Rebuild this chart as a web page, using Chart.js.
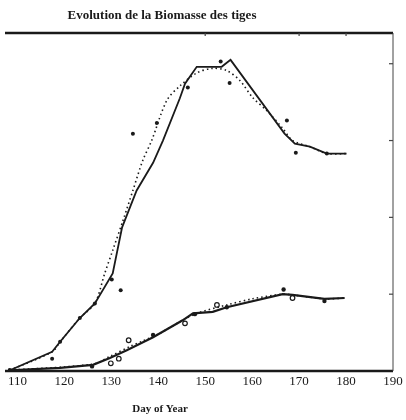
<!DOCTYPE html>
<html>
<head>
<meta charset="utf-8">
<script src="https://cdn.jsdelivr.net/npm/chart.js@4"></script>
<style>
  html, body { margin:0; padding:0; background:#fff; }
  #wrap { width:406px; height:420px; position:relative; }
</style>
</head>
<body>
<div id="wrap"><canvas id="chart" width="406" height="420"></canvas></div>
<script>
// Days and biomass values (y in tick units, 0..4.4)
const upperLineDays = [108.4,117.4,119.1,123.3,126.5,130.3,132.3,135.4,138.9,141,144.6,145.7,148.2,153.5,155.4,166.9,169.1,172.3,175.9,180.1];
const upperLineVals = [0.01,0.25,0.38,0.69,0.88,1.27,1.87,2.35,2.71,3.0,3.55,3.74,3.96,3.96,4.05,3.09,2.96,2.92,2.83,2.83];

const upperFitDays = [108.4,117.4,119.1,123.3,126.5,128.6,130.3,132.5,134.6,136.7,138.6,141.8,144.6,148.2,151.6,154.6,157.4,160.1,163.1,166.5,168.6,172.3,175.9,180.1];
const upperFitVals = [0.01,0.25,0.38,0.69,0.88,1.27,1.57,1.96,2.35,2.74,3.0,3.52,3.71,3.88,3.94,3.91,3.78,3.56,3.39,3.16,3.0,2.92,2.83,2.83];

const upperObsDays = [108.4,117.4,119.1,123.3,126.5,130.1,132.0,134.6,139.7,146.3,153.3,155.2,167.4,169.3,175.9];
const upperObsVals = [0,0.16,0.38,0.69,0.88,1.19,1.05,3.09,3.23,3.69,4.03,3.75,3.26,2.84,2.83];

const lowerLineDays = [108.4,119.1,126.1,129.7,133.3,138.9,145.2,147.4,151.6,154.6,166.5,168.6,175.4,179.7];
const lowerLineVals = [0.01,0.04,0.08,0.17,0.27,0.44,0.66,0.75,0.77,0.83,1.0,0.99,0.94,0.95];

const lowerFitDays = [108.4,126.1,129.7,134,136.7,140.3,144.6,148.2,154.6,160.1,166.5,168.6,175.4,179.7];
const lowerFitVals = [0.01,0.09,0.19,0.32,0.39,0.49,0.64,0.75,0.86,0.94,1.0,0.99,0.94,0.95];

const lowerFilledDays = [108.4,111.6,113.3,125.9,138.9,147.8,154.6,166.7,175.4];
const lowerFilledVals = [0.01,0,0.01,0.06,0.47,0.74,0.83,1.06,0.91];

const lowerOpenDays = [129.9,131.6,133.7,145.7,152.5,168.6];
const lowerOpenVals = [0.1,0.16,0.4,0.62,0.86,0.95];

const xTicks = [110,120,130,140,150,160,170,180,190];
const yTicks = [1,2,3,4];

function pts(xs, ys){ return xs.map((x,i)=>({x:x, y:ys[i]})); }

const ink = '#1a1a1a';

// frame: heavy top and bottom rules, thin right edge, little ticks, texts
const framePlugin = {
  id:'frame',
  afterDraw(chart){
    const {ctx, chartArea:a, scales} = chart;
    ctx.save();
    ctx.strokeStyle = ink;
    ctx.lineWidth = 2.5;
    ctx.beginPath(); ctx.moveTo(a.left-3, a.top); ctx.lineTo(a.right, a.top); ctx.stroke();
    ctx.beginPath(); ctx.moveTo(a.left-3, a.bottom); ctx.lineTo(a.right, a.bottom); ctx.stroke();
    ctx.lineWidth = 1;
    ctx.strokeStyle = '#444';
    ctx.beginPath(); ctx.moveTo(a.right, a.top); ctx.lineTo(a.right, a.bottom); ctx.stroke();
    ctx.lineWidth = 1.2;
    yTicks.forEach(v=>{
      const y = scales.y.getPixelForValue(v);
      ctx.beginPath(); ctx.moveTo(a.right, y); ctx.lineTo(a.right-4, y); ctx.stroke();
    });
    [150,170,180].forEach(v=>{
      const x = scales.x.getPixelForValue(v);
      ctx.beginPath(); ctx.moveTo(x, a.top); ctx.lineTo(x, a.top+3); ctx.stroke();
    });
    ctx.fillStyle = ink;
    ctx.textAlign = 'center';
    ctx.textBaseline = 'middle';
    ctx.font = 'bold 13px "Liberation Serif"';
    ctx.fillText('Evolution de la Biomasse des tiges', 162, 16);
    ctx.font = 'bold 11px "Liberation Serif"';
    ctx.fillText('Day of Year', 160, 409);
    ctx.restore();
  }
};

new Chart(document.getElementById('chart').getContext('2d'), {
  type:'line',
  data:{
    datasets:[
      { data:pts(upperLineDays, upperLineVals), borderColor:ink, borderWidth:1.8, pointRadius:0, tension:0 },
      { data:pts(upperFitDays, upperFitVals), borderColor:ink, borderWidth:1.6, borderDash:[1.5,3], pointRadius:0, tension:0.3 },
      { data:pts(upperObsDays, upperObsVals), showLine:false, pointRadius:2, pointBackgroundColor:ink, pointBorderColor:ink, pointBorderWidth:0 },
      { data:pts(lowerLineDays, lowerLineVals), borderColor:ink, borderWidth:2.2, pointRadius:0, tension:0 },
      { data:pts(lowerFitDays, lowerFitVals), borderColor:ink, borderWidth:1.6, borderDash:[1.5,3], pointRadius:0, tension:0.3 },
      { data:pts(lowerFilledDays, lowerFilledVals), showLine:false, pointRadius:2.2, pointBackgroundColor:ink, pointBorderColor:ink, pointBorderWidth:0 },
      { data:pts(lowerOpenDays, lowerOpenVals), showLine:false, pointRadius:2.3, pointBackgroundColor:'#fff', pointBorderColor:ink, pointBorderWidth:1.2 }
    ]
  },
  options:{
    responsive:false,
    animation:false,
    layout:{ padding:{ left:8, right:13, top:33, bottom:0 } },
    plugins:{ legend:{display:false}, tooltip:{enabled:false}, title:{display:false} },
    scales:{
      x:{
        type:'linear', min:108, max:190,
        afterBuildTicks: s => { s.ticks = xTicks.map(v=>({value:v})); },
        afterFit: s => { s.height = 49; },
        grid:{ display:false, drawTicks:false },
        border:{ display:false },
        ticks:{ padding:3, color:ink, font:{ family:'"Liberation Serif"', size:13 } }
      },
      y:{
        display:false, min:0, max:4.4
      }
    }
  },
  plugins:[framePlugin]
});
</script>
</body>
</html>
